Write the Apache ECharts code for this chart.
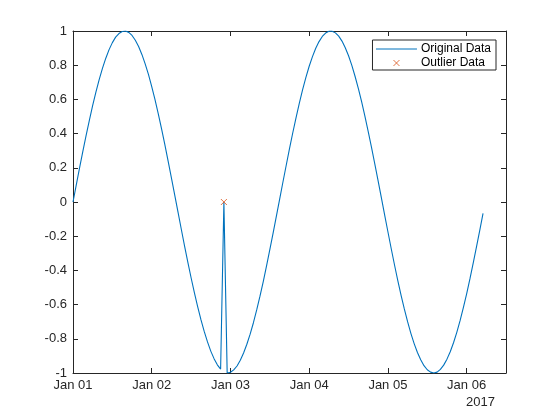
<!DOCTYPE html>
<html>
<head>
<meta charset="utf-8">
<script src="https://cdn.jsdelivr.net/npm/echarts@6/dist/echarts.min.js"></script>
<style>
  html, body { margin: 0; padding: 0; background: #fff; }
  #main { width: 560px; height: 420px; }
</style>
</head>
<body>
<div id="main"></div>
<script>
// hours since 2017-01-01 00:00, one sample per hour
var startDay = 1;
var hourStep = 1;
// original data (hour 46 is the spike)
var originalData = [
  0.000, 0.100, 0.199, 0.296, 0.389, 0.479, 0.565, 0.644, 0.717, 0.783,
  0.841, 0.891, 0.932, 0.964, 0.985, 0.997, 1.000, 0.992, 0.974, 0.946,
  0.909, 0.863, 0.808, 0.746, 0.675, 0.598, 0.516, 0.427, 0.335, 0.239,
  0.141, 0.042, -0.058, -0.158, -0.256, -0.351, -0.443, -0.530, -0.612, -0.688,
  -0.757, -0.818, -0.872, -0.916, -0.952, -0.977, 0.000, -1.000, -0.996, -0.982,
  -0.959, -0.926, -0.883, -0.832, -0.773, -0.706, -0.631, -0.551, -0.465, -0.374,
  -0.279, -0.182, -0.083, 0.017, 0.117, 0.215, 0.312, 0.405, 0.494, 0.578,
  0.657, 0.729, 0.794, 0.850, 0.899, 0.938, 0.968, 0.988, 0.999, 0.999,
  0.989, 0.970, 0.941, 0.902, 0.855, 0.799, 0.734, 0.663, 0.585, 0.501,
  0.412, 0.319, 0.223, 0.125, 0.025, -0.075, -0.174, -0.272, -0.367, -0.458,
  -0.544, -0.625, -0.700, -0.768, -0.828, -0.880, -0.923, -0.957, -0.981, -0.995,
  -1.000, -0.995, -0.979, -0.954, -0.919, -0.876, -0.823, -0.762, -0.694, -0.618,
  -0.537, -0.450, -0.358, -0.263, -0.166, -0.066
];
// outlier points: [hour, value]
var outlierHours = [46];
var outlierValues = [0];
var yearLabel = '2017';

var axisColor = '#262626';
var font = 'Liberation Sans, Arial, sans-serif';

var linePoints = [];
for (var i = 0; i < originalData.length; i++) {
  linePoints.push([i * hourStep, originalData[i]]);
}
var outlierPoints = [];
for (var j = 0; j < outlierHours.length; j++) {
  outlierPoints.push([outlierHours[j], outlierValues[j]]);
}

function dayLabel(v) {
  var d = startDay + Math.round(v / 24);
  return 'Jan ' + (d < 10 ? '0' + d : d);
}

var tickStyle = { show: true, inside: true, length: 5, lineStyle: { color: axisColor, width: 1 } };
var lineStyleAxis = { show: true, onZero: false, lineStyle: { color: axisColor, width: 1 } };

var myChart = echarts.init(document.getElementById('main'));
var option = {
  animation: false,
  backgroundColor: '#fff',
  grid: { left: 73, right: 54, top: 31, bottom: 47, containLabel: false },
  legend: {
    right: 64, top: 40,
    orient: 'vertical',
    backgroundColor: '#fff',
    borderColor: axisColor,
    borderWidth: 1,
    borderRadius: 0,
    padding: [3, 5, 1, 3],
    itemGap: 2,
    itemWidth: 41,
    itemHeight: 6,
    textStyle: { fontFamily: font, fontSize: 12, color: '#000', padding: [0, 0, 0, -1] },
    data: [
      { name: 'Original Data', itemStyle: { opacity: 0 }, lineStyle: { width: 1 } },
      { name: 'Outlier Data', itemStyle: { borderWidth: 1 } }
    ]
  },
  xAxis: [
    {
      type: 'value', position: 'bottom', min: 0, max: 132, interval: 24,
      axisLine: lineStyleAxis, axisTick: tickStyle, splitLine: { show: false },
      axisLabel: { formatter: dayLabel, showMaxLabel: false, color: axisColor, fontFamily: font, fontSize: 13, margin: 6 },
      name: yearLabel, nameLocation: 'end', nameGap: 0,
      nameTextStyle: { color: axisColor, fontFamily: font, fontSize: 13, align: 'right', verticalAlign: 'top', padding: [23, 11, 0, 0] }
    },
    {
      type: 'value', position: 'top', min: 0, max: 132, interval: 24,
      axisLine: lineStyleAxis, axisTick: tickStyle, splitLine: { show: false },
      axisLabel: { show: false }
    }
  ],
  yAxis: [
    {
      type: 'value', position: 'left', min: -1, max: 1, interval: 0.2,
      axisLine: lineStyleAxis, axisTick: tickStyle, splitLine: { show: false },
      axisLabel: {
        color: axisColor, fontFamily: font, fontSize: 13, margin: 6,
        formatter: function (v) { return String(Math.round(v * 10) / 10); }
      }
    },
    {
      type: 'value', position: 'right', min: -1, max: 1, interval: 0.2,
      axisLine: lineStyleAxis, axisTick: tickStyle, splitLine: { show: false },
      axisLabel: { show: false }
    }
  ],
  series: [
    {
      name: 'Original Data',
      type: 'line',
      data: linePoints,
      symbol: 'none',
      lineStyle: { color: '#0072BD', width: 1.1 },
      itemStyle: { color: '#0072BD' }
    },
    {
      name: 'Outlier Data',
      type: 'scatter',
      data: outlierPoints,
      symbol: 'path://M0,0L10,10M10,0L0,10',
      symbolSize: 6,
      itemStyle: { color: 'rgba(0,0,0,0)', borderColor: '#D95319', borderWidth: 1 },
      z: 5
    }
  ]
};
myChart.setOption(option);
</script>
</body>
</html>
